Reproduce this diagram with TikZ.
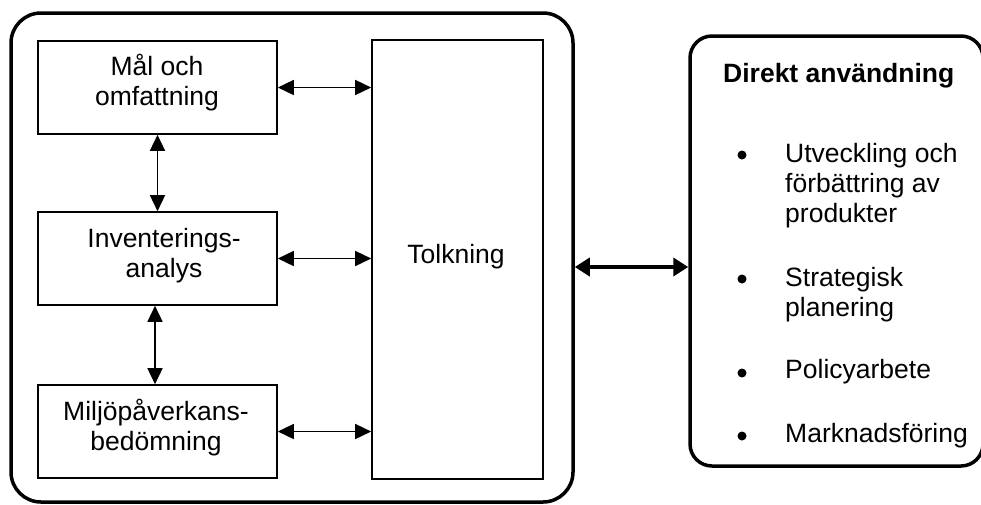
\documentclass[tikz,border=0pt]{standalone}
\usepackage{fontspec}
\setmainfont{Liberation Sans}
\usetikzlibrary{arrows.meta}
\begin{document}
\begin{tikzpicture}[x=1pt,y=-1pt,
  frame/.style={draw, line width=3.5pt, rounded corners=30pt, inner sep=0pt},
  usebox/.style={draw, line width=3.5pt, rounded corners=22pt, inner sep=0pt},
  stage/.style={draw, line width=1.6pt, inner sep=0pt},
  lbl/.style={font=\fontsize{26.5}{30}\selectfont, align=center, inner sep=0pt, anchor=base},
  itemtext/.style={font=\fontsize{26.5}{30}\selectfont, align=left, inner sep=0pt, anchor=base west},
  dot/.style={circle, fill, inner sep=0pt, minimum size=9pt},
  link/.style={line width=1.5pt, {Triangle[length=16pt,width=15pt]}-{Triangle[length=16pt,width=15pt]}},
  biglink/.style={line width=4.5pt, {Triangle[length=15pt,width=18pt]}-{Triangle[length=15pt,width=18pt]}},
]
\useasboundingbox (0,0) rectangle (981,504);

% outer frame around the LCA phases and the application box
\node[frame, minimum width=562pt, minimum height=489pt] (frame) at (292,257.5) {};
\node[usebox, minimum width=293pt, minimum height=430pt] (use) at (836.5,251) {};

% phase boxes
\node[stage, minimum width=239pt, minimum height=93pt] (mal) at (157.5,87.5) {};
\node[stage, minimum width=239pt, minimum height=93pt] (inv) at (157.5,258.5) {};
\node[stage, minimum width=239pt, minimum height=93pt] (mil) at (157.5,431.5) {};
\node[stage, minimum width=171pt, minimum height=439pt] (tolk) at (457.5,259.5) {};

% phase labels (placed at the baseline of their last line)
\node[lbl] (tmal) at (157,105) {Mål och\\omfattning};
\node[lbl] (tinv) at (164,277) {Inventerings-\\analys};
\node[lbl] (tmil) at (156,450) {Miljöpåverkans-\\bedömning};
\node[lbl] (ttolk) at (456,263) {Tolkning};

% connections between phases
\draw[link] (mal.east) -- (mal.east -| tolk.west);
\draw[link] (inv.east) -- (inv.east -| tolk.west);
\draw[link] (mil.east) -- (mil.east -| tolk.west);
\draw[link] (mal.south) -- (inv.north);
\draw[link] ([xshift=-2.5pt]inv.south) -- ([xshift=-2.5pt]mil.north);

% link to direct applications
\coordinate (bigy) at (0,267);
\draw[biglink] (frame.east |- bigy) -- (use.west |- bigy);

% direct applications
\node[itemtext, font=\fontsize{26.5}{30}\selectfont\bfseries] (head) at (723,82) {Direkt användning};
\node[dot] (b1) at (742,155) {};
\node[dot] (b2) at (742,279) {};
\node[dot] (b3) at (742,373) {};
\node[dot] (b4) at (742,436) {};
\node[itemtext] (i1) at (785,222) {Utveckling och\\förbättring av\\produkter};
\node[itemtext] (i2) at (785,316) {Strategisk\\planering};
\node[itemtext] (i3) at (785,378) {Policyarbete};
\node[itemtext] (i4) at (785,442) {Marknadsföring};
\end{tikzpicture}
\end{document}
